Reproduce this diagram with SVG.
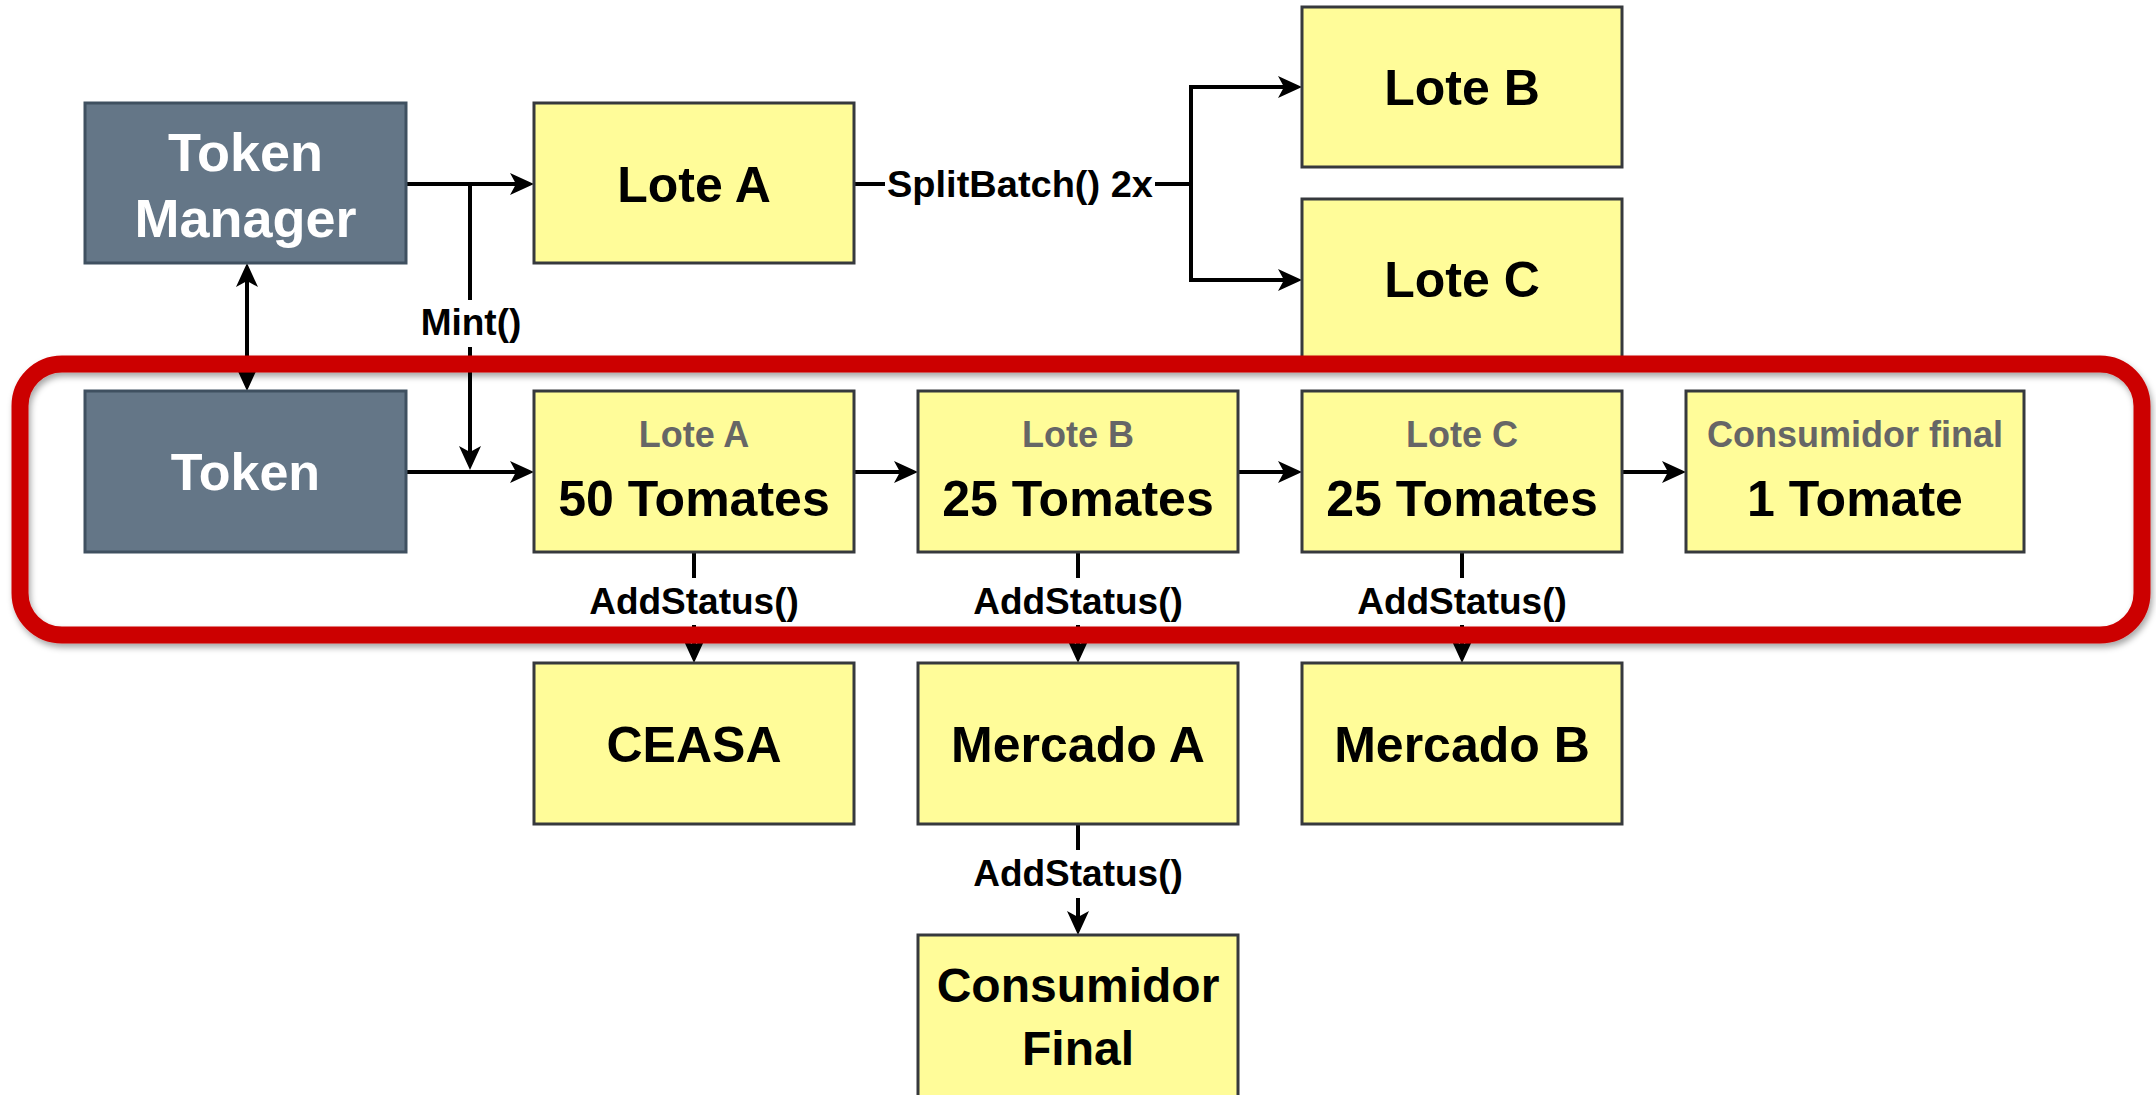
<svg xmlns="http://www.w3.org/2000/svg" width="2156" height="1095" viewBox="0 0 2156 1095">
  <defs>
    <style>
      .slate { fill: #647687; stroke: #3f5060; stroke-width: 3; }
      .lot { fill: #FFFC99; stroke: #36393d; stroke-width: 3; }
      .w { fill: #ffffff; font-family: "Liberation Sans", Arial, sans-serif; font-weight: bold; text-anchor: middle; }
      .t { fill: #000000; font-family: "Liberation Sans", Arial, sans-serif; font-weight: bold; text-anchor: middle; }
      .sub { fill: #666666; font-family: "Liberation Sans", Arial, sans-serif; font-weight: bold; text-anchor: middle; font-size: 36px; }
      .lbl { fill: #000000; font-family: "Liberation Sans", Arial, sans-serif; font-weight: bold; text-anchor: middle; font-size: 37px; }
      .edge { fill: none; stroke: #000000; stroke-width: 4; }
      .arr { marker-end: url(#head); }
      .both { marker-start: url(#head); marker-end: url(#head); }
    </style>
    <marker id="head" markerUnits="userSpaceOnUse" markerWidth="26" markerHeight="24" refX="14" refY="11" orient="auto-start-reverse">
      <path d="M0,0 L24,11 L0,22 L6,11 Z" fill="#000000"/>
    </marker>
    <filter id="frameShadow" x="-5%" y="-20%" width="110%" height="140%">
      <feDropShadow dx="2" dy="4" stdDeviation="3" flood-color="#000000" flood-opacity="0.35"/>
    </filter>
  </defs>

  <rect width="2156" height="1095" fill="#ffffff"/>

  <!-- connectors -->
  <g id="connectors">
    <path class="edge arr" d="M406,184 H524"/>
    <path class="edge" d="M470,184 V300"/>
    <path class="edge arr" d="M470,347 V460"/>
    <path class="edge both" d="M247,273 V381"/>
    <path class="edge arr" d="M406,472 H524"/>
    <path class="edge" d="M854,184 H885"/>
    <path class="edge arr" d="M1155,184 H1191 V87 H1292"/>
    <path class="edge arr" d="M1191,184 V280 H1292"/>
    <path class="edge arr" d="M854,472 H908"/>
    <path class="edge arr" d="M1238,472 H1292"/>
    <path class="edge arr" d="M1622,472 H1676"/>
    <path class="edge" d="M694,552 V578"/>
    <path class="edge arr" d="M694,625 V653"/>
    <path class="edge" d="M1078,552 V578"/>
    <path class="edge arr" d="M1078,625 V653"/>
    <path class="edge" d="M1462,552 V578"/>
    <path class="edge arr" d="M1462,625 V653"/>
    <path class="edge" d="M1078,824 V850"/>
    <path class="edge arr" d="M1078,898 V925"/>
    <text class="lbl" x="471" y="335">Mint()</text>
    <text class="lbl" x="1020" y="197" textLength="266" lengthAdjust="spacingAndGlyphs">SplitBatch() 2x</text>
    <text class="lbl" x="694" y="614">AddStatus()</text>
    <text class="lbl" x="1078" y="614">AddStatus()</text>
    <text class="lbl" x="1462" y="614">AddStatus()</text>
    <text class="lbl" x="1078" y="886">AddStatus()</text>
  </g>

  <!-- nodes -->
  <g id="token-manager">
    <rect class="slate" x="85" y="103" width="321" height="160"/>
    <text class="w" x="245.5" y="171" font-size="54">Token</text>
    <text class="w" x="245.5" y="237" font-size="54">Manager</text>
  </g>
  <g id="lote-a">
    <rect class="lot" x="534" y="103" width="320" height="160"/>
    <text class="t" x="694" y="202" font-size="50">Lote A</text>
  </g>
  <g id="lote-b">
    <rect class="lot" x="1302" y="7" width="320" height="160"/>
    <text class="t" x="1462" y="105" font-size="50">Lote B</text>
  </g>
  <g id="lote-c">
    <rect class="lot" x="1302" y="199" width="320" height="160"/>
    <text class="t" x="1462" y="297" font-size="50">Lote C</text>
  </g>
  <g id="token">
    <rect class="slate" x="85" y="391" width="321" height="161"/>
    <text class="w" x="245.5" y="490" font-size="52">Token</text>
  </g>
  <g id="lote-a-50">
    <rect class="lot" x="534" y="391" width="320" height="161"/>
    <text class="sub" x="694" y="447">Lote A</text>
    <text class="t" x="694" y="516" font-size="50">50 Tomates</text>
  </g>
  <g id="lote-b-25">
    <rect class="lot" x="918" y="391" width="320" height="161"/>
    <text class="sub" x="1078" y="447">Lote B</text>
    <text class="t" x="1078" y="516" font-size="50">25 Tomates</text>
  </g>
  <g id="lote-c-25">
    <rect class="lot" x="1302" y="391" width="320" height="161"/>
    <text class="sub" x="1462" y="447">Lote C</text>
    <text class="t" x="1462" y="516" font-size="50">25 Tomates</text>
  </g>
  <g id="consumidor-final-1">
    <rect class="lot" x="1686" y="391" width="338" height="161"/>
    <text class="sub" x="1855" y="447">Consumidor final</text>
    <text class="t" x="1855" y="516" font-size="50">1 Tomate</text>
  </g>
  <g id="ceasa">
    <rect class="lot" x="534" y="663" width="320" height="161"/>
    <text class="t" x="694" y="762" font-size="50">CEASA</text>
  </g>
  <g id="mercado-a">
    <rect class="lot" x="918" y="663" width="320" height="161"/>
    <text class="t" x="1078" y="762" font-size="50">Mercado A</text>
  </g>
  <g id="mercado-b">
    <rect class="lot" x="1302" y="663" width="320" height="161"/>
    <text class="t" x="1462" y="762" font-size="50">Mercado B</text>
  </g>
  <g id="consumidor-final">
    <rect class="lot" x="918" y="935" width="320" height="164"/>
    <text class="t" x="1078" y="1002" font-size="48">Consumidor</text>
    <text class="t" x="1078" y="1065" font-size="48">Final</text>
  </g>

  <!-- highlight frame around the token row -->
  <g id="highlight">
    <rect x="20" y="364" width="2122" height="271" rx="42" ry="42" fill="none" stroke="#CC0000" stroke-width="17" filter="url(#frameShadow)"/>
  </g>
</svg>
